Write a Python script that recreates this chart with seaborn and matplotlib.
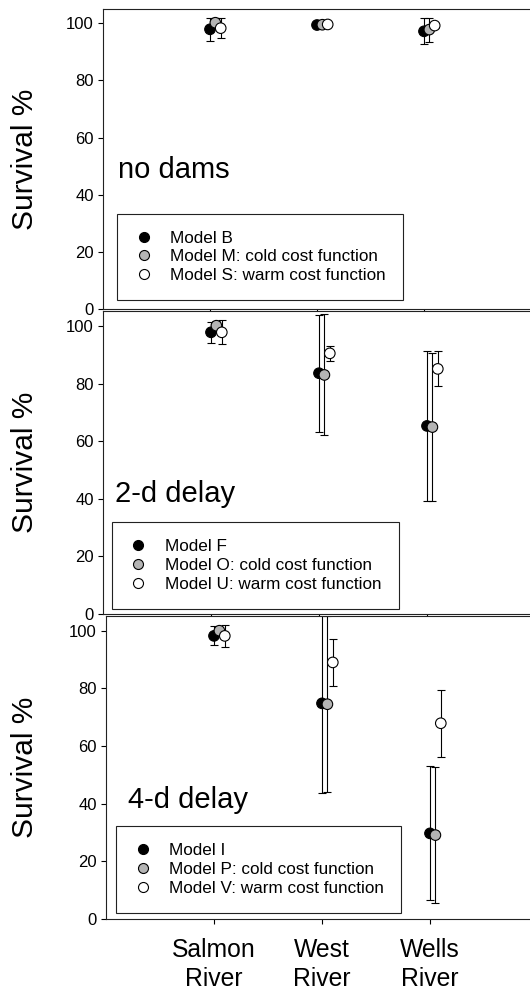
import numpy as np
import pandas as pd
import matplotlib
matplotlib.use("Agg")
import matplotlib.pyplot as plt
import seaborn as sns
from matplotlib.lines import Line2D

# Rivers on the x axis
rivers = ["Salmon\nRiver", "West\nRiver", "Wells\nRiver"]

# Scenario panels, top to bottom
scenarios = ["no dams", "2-d delay", "4-d delay"]

# Model names per scenario: base model, cold cost function, warm cost function
models_no_dams = ["Model B", "Model M: cold cost function", "Model S: warm cost function"]
models_2d = ["Model F", "Model O: cold cost function", "Model U: warm cost function"]
models_4d = ["Model I", "Model P: cold cost function", "Model V: warm cost function"]

# Mean survival (%) per river, and error (+/-)
no_dams_base = [97.9, 99.4, 97.2]
no_dams_cold = [100.2, 99.5, 97.8]
no_dams_warm = [98.3, 99.6, 99.2]
no_dams_base_err = [4.0, 0.3, 4.5]
no_dams_cold_err = [1.8, 0.3, 4.2]
no_dams_warm_err = [3.6, 0.3, 1.0]

delay2_base = [97.8, 83.6, 65.3]
delay2_cold = [100.1, 83.0, 64.9]
delay2_warm = [97.8, 90.5, 85.1]
delay2_base_err = [3.6, 20.3, 26.0]
delay2_cold_err = [1.7, 21.0, 25.8]
delay2_warm_err = [4.2, 2.7, 6.1]

delay4_base = [98.2, 74.8, 29.7]
delay4_cold = [100.0, 74.5, 29.1]
delay4_warm = [98.2, 89.0, 67.9]
delay4_base_err = [3.3, 31.0, 23.2]
delay4_cold_err = [1.2, 30.6, 23.7]
delay4_warm_err = [3.8, 8.2, 11.6]

kinds = ["base", "cold", "warm"]
scenario_data = {
    "no dams": (models_no_dams,
                [no_dams_base, no_dams_cold, no_dams_warm],
                [no_dams_base_err, no_dams_cold_err, no_dams_warm_err]),
    "2-d delay": (models_2d,
                  [delay2_base, delay2_cold, delay2_warm],
                  [delay2_base_err, delay2_cold_err, delay2_warm_err]),
    "4-d delay": (models_4d,
                  [delay4_base, delay4_cold, delay4_warm],
                  [delay4_base_err, delay4_cold_err, delay4_warm_err]),
}

rows = []
for scen, (names, means, errs) in scenario_data.items():
    for k, kind in enumerate(kinds):
        for r, river in enumerate(rivers):
            rows.append({"scenario": scen, "kind": kind, "model": names[k],
                         "river_idx": r, "survival": means[k][r], "err": errs[k][r]})
df = pd.DataFrame(rows)

# Small horizontal dodge so the three models sit side by side
dodge = {"base": 0.0, "cold": 0.05, "warm": 0.10}
df["xpos"] = df["river_idx"] + 1 + df["kind"].map(dodge)

face = {"base": "black", "cold": "#b4b4b4", "warm": "white"}

sns.set_style("ticks")
plt.rcParams["font.family"] = ["Liberation Sans", "DejaVu Sans"]
plt.rcParams["text.color"] = "black"
plt.rcParams["xtick.color"] = "black"
plt.rcParams["ytick.color"] = "black"
plt.rcParams["axes.labelcolor"] = "black"

W, H = 530, 996
fig = plt.figure(figsize=(W / 100, H / 100), dpi=100)

# panel geometry in pixels: left, top, bottom, pixels per river step, ylim top
panels = [
    (103, 9.0, 309.3, 107.0, 105.0),
    (103, 311.0, 614.0, 108.0, 105.2),
    (106, 616.0, 919.0, 108.0, 105.1),
]
label_pos = [(0.035, 0.437), (0.028, 0.370), (0.052, 0.366)]
legend_pos = [(0.033, 0.030), (0.021, 0.017), (0.024, 0.020)]

for i, scen in enumerate(scenarios):
    left, top, bottom, step, ytop = panels[i]
    ax = fig.add_axes([left / W, (H - bottom) / H, 1 - left / W, (bottom - top) / H])
    sub = df[df["scenario"] == scen]

    for kind in kinds:
        s = sub[sub["kind"] == kind]
        ax.errorbar(s["xpos"], s["survival"], yerr=s["err"], fmt="none",
                    ecolor="black", elinewidth=0.8, capsize=2.9, capthick=0.8,
                    zorder=2)
    sns.scatterplot(data=sub, x="xpos", y="survival", hue="kind",
                    palette=face, hue_order=kinds, edgecolor="black",
                    linewidth=0.8, s=58, legend=False, ax=ax, zorder=3)

    ax.set_xlim(0, (W - left) / step)
    ax.set_ylim(0, ytop)
    ax.set_yticks([0, 20, 40, 60, 80, 100])
    ax.set_xticks([1, 2, 3])
    ax.set_xlabel("")
    ax.set_ylabel("")
    ax.tick_params(axis="both", direction="out", length=3.5, width=0.8,
                   color="black", labelcolor="black")
    ax.tick_params(axis="y", labelsize=12, pad=3)
    if i == 2:
        ax.set_xticklabels(rivers, linespacing=1.25)
        ax.tick_params(axis="x", labelsize=17.8, pad=10)
    else:
        ax.set_xticklabels([])
    for side in ["left", "top", "bottom"]:
        ax.spines[side].set_visible(True)
        ax.spines[side].set_linewidth(0.8)
        ax.spines[side].set_color("#222222")
    ax.spines["right"].set_visible(False)

    fig.text(25 / W, (H - (top + bottom) / 2) / H, "Survival %", rotation=90,
             ha="center", va="center", fontsize=21.5, color="black")

    ax.text(label_pos[i][0], label_pos[i][1], scen, transform=ax.transAxes,
            fontsize=21, ha="left", va="baseline", color="black")

    names = scenario_data[scen][0]
    handles = [Line2D([], [], linestyle="none", marker="o", markersize=7.2,
                      markerfacecolor=face[k], markeredgecolor="black",
                      markeredgewidth=0.8) for k in kinds]
    leg = ax.legend(handles, names, loc="lower left",
                    bbox_to_anchor=legend_pos[i], borderaxespad=0,
                    frameon=True, fancybox=False, framealpha=1,
                    edgecolor="#222222", fontsize=12.3, borderpad=1.0,
                    handlelength=1.1, handletextpad=1.0, labelspacing=0.22)
    leg.get_frame().set_linewidth(0.8)
    for t in leg.get_texts():
        t.set_color("black")

fig.savefig("out.png", dpi=100)
